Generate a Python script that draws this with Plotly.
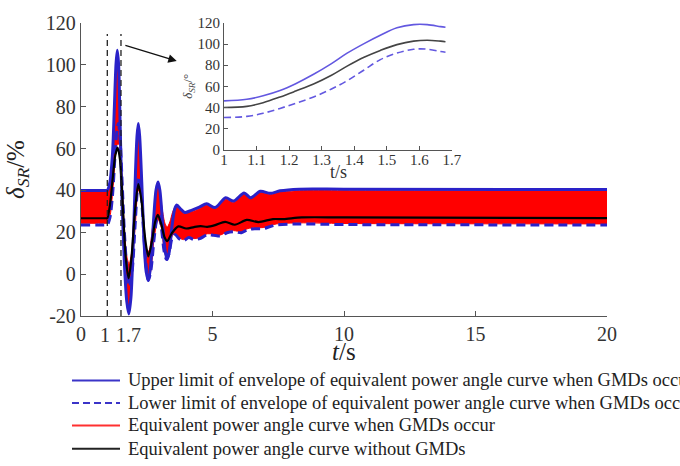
import plotly.graph_objects as go

# ---------------- main plot data ----------------
t_upper = [0, 0.95, 1.0, 1.1, 1.2, 1.27, 1.33, 1.38, 1.43, 1.49, 1.56, 1.65, 1.74, 1.82, 1.9, 1.98, 2.07, 2.13, 2.18,
           2.23, 2.31, 2.4, 2.48, 2.56, 2.64, 2.74, 2.85, 2.93, 3.0, 3.1, 3.2, 3.28, 3.36, 3.46, 3.56, 3.64, 3.8, 3.95,
           4.2, 4.5, 4.78, 5.1, 5.5, 5.8, 6.2, 6.45, 6.82, 7.2, 7.57, 8.3, 10, 20]
upper = [40, 40, 40, 44, 58, 80, 100, 107, 100, 70, 35, 5, -13, -19, -11, 12, 48, 66, 72,
         66, 44, 15, 1, -3, 3, 22, 40, 44, 40, 25, 11, 7, 11, 23, 31, 33, 31, 29.5,
         30.5, 32, 33.6, 31.8, 36.5, 34.9, 38.8, 36.5, 39.6, 38.6, 39.8, 40.6, 40.6, 40.4]

t_lower = [0, 0.95, 1.0, 1.1, 1.2, 1.3, 1.37, 1.42, 1.48, 1.56, 1.65, 1.75, 1.85, 1.95, 2.05, 2.14, 2.2, 2.27, 2.36,
           2.46, 2.56, 2.66, 2.78, 2.9, 2.98, 3.06, 3.16, 3.25, 3.35, 3.46, 3.58, 3.72, 3.9, 4.1, 4.3, 4.52, 4.8,
           5.03, 5.3, 5.55, 5.8, 6.1, 6.35, 6.62, 6.95, 7.2, 7.44, 8.3, 10, 20]
lower = [23.5, 23.5, 23.5, 27, 38, 58, 69, 72, 66, 45, 20, 2, -6, 2, 22, 40, 46.5, 42, 25,
         6, -3, 2, 17, 27, 28, 22, 11, 7, 10, 17, 19, 17, 16, 17.5, 16.5, 17, 18.8,
         18.6, 18.2, 19.8, 20.3, 19.8, 21.3, 21.7, 21.8, 22.8, 23.5, 24, 23.7, 23.5]

t_red_hi = [0, 0.95, 1.0, 1.1, 1.2, 1.27, 1.33, 1.38, 1.43, 1.49, 1.56, 1.65, 1.75, 1.83, 1.92, 2.0, 2.07, 2.13, 2.18,
            2.23, 2.31, 2.4, 2.5, 2.58, 2.68, 2.78, 2.86, 2.93, 3.0, 3.1, 3.2, 3.28, 3.38, 3.48, 3.58, 3.64, 3.8,
            3.95, 4.2, 4.5, 4.78, 5.1, 5.5, 5.8, 6.2, 6.45, 6.82, 7.2, 7.57, 8.3, 10, 20]
red_hi = [39.3, 39.3, 39.3, 43.5, 57, 79, 99, 105.5, 99, 71, 45, 22, 8, 5, 10, 25, 47, 64, 70.5,
          64, 44, 22, 12, 11, 18, 30, 40, 43, 39, 30, 24, 22.5, 25, 29.5, 32, 32.3, 30.3,
          28.8, 29.8, 31.3, 33, 31.2, 35.8, 34.3, 38.2, 36, 39, 38, 39.2, 39.9, 39.9, 39.7]

t_red_lo = [0, 0.95, 1.0, 1.1, 1.2, 1.3, 1.38, 1.45, 1.5, 1.56, 1.65, 1.74, 1.82, 1.9, 1.98, 2.07, 2.18, 2.27, 2.36,
            2.46, 2.56, 2.66, 2.78, 2.93, 3.06, 3.16, 3.25, 3.36, 3.46, 3.58, 3.72, 3.9, 4.1, 4.3, 4.52, 4.8, 5.03,
            5.3, 5.55, 5.8, 6.1, 6.35, 6.62, 6.95, 7.2, 7.44, 8.3, 10, 20]
red_lo = [24.3, 24.3, 24.3, 27.5, 38.5, 55, 62, 62, 55, 35, 5, -13, -18, -11, 10, 24, 40, 38, 22,
          2, -2.5, 2, 17, 26, 22, 11.5, 8, 11, 18, 19.5, 17.5, 16.5, 18, 17, 17.5, 19.3, 19.1,
          18.7, 20.3, 20.8, 20.3, 21.8, 22.2, 22.3, 23.3, 24, 24.5, 24.2, 24]

t_black = [0, 0.95, 1.0, 1.1, 1.2, 1.3, 1.39, 1.48, 1.58, 1.7, 1.81, 1.92, 2.05, 2.18, 2.3, 2.44, 2.56, 2.7, 2.82,
           2.92, 3.05, 3.18, 3.28, 3.45, 3.7, 4.0, 4.3, 4.55, 4.8, 5.1, 5.48, 5.85, 6.3, 6.75, 7.3, 7.7, 8.4, 10, 20]
black = [26.7, 26.7, 26.7, 33, 45, 56.5, 60.5, 55, 35, 8, -2, 8, 30, 43, 35, 17, 8.5, 16, 25,
         28.3, 24, 17.5, 15.8, 19.5, 22.8, 21.8, 22.5, 22.9, 22.6, 23.4, 25, 23.6, 25.9, 24.9, 26.3, 26.3, 27.1, 27.1, 26.8]

fault_times = [1.0, 1.52]          # dashed markers
fault_top = 114.7
marker_labels = ["1", "1.7"]
marker_label_x = [0.92, 1.82]
main_xticks = [0, 5, 10, 15, 20]
main_yticks = [-20, 0, 20, 40, 60, 80, 100, 120]
main_yticktext = ["-20", "0", "20", "40", "60", "80", "100", "120"]
arrow_from = (1.63, 109.5)
arrow_to = (3.64, 101.8)

# ---------------- inset data ----------------
t_in = [1.0, 1.07, 1.12, 1.172, 1.22, 1.275, 1.33, 1.378, 1.43, 1.48, 1.531, 1.582, 1.624, 1.665, 1.68]
in_upper = [46.2, 47.7, 51, 56, 62.5, 71.4, 81.5, 91.4, 100.5, 108.4, 115.4, 118.5, 118.5, 116.6, 116]
in_black = [40, 41, 44.5, 49.9, 55.5, 62.2, 70.5, 79.1, 87.5, 94, 99.5, 102.8, 103.6, 102.8, 102.3]
in_lower = [30.5, 31.5, 34.5, 39.1, 44, 49.9, 57.5, 65.3, 75.5, 85.3, 91.5, 95.1, 95.2, 93, 92.3]
in_xticks = [1.0, 1.1, 1.2, 1.3, 1.4, 1.5, 1.6, 1.7]
in_xticktext = ["1", "1.1", "1.2", "1.3", "1.4", "1.5", "1.6", "1.7"]
in_yticks = [0, 20, 40, 60, 80, 100, 120]

legend_names = ["Upper limit of envelope of equivalent power angle curve when GMDs occur",
                "Lower limit of envelope of equivalent power angle curve when GMDs occur",
                "Equivalent power angle curve when GMDs occur",
                "Equivalent power angle curve without GMDs"]

SERIF = "Liberation Serif, Times New Roman, serif"
BLUE = "#2a22c8"
BLUE_IN = "#6358e0"
RED = "#ff0000"
W, H = 680, 466
ML, MR, MT, MB = 81, 73, 16, 150
PW, PH = W - ML - MR, H - MT - MB


def px_x(p):   # pixel column -> paper x
    return (p - ML) / PW


def px_y(p):   # pixel row -> paper y
    return (H - MB - p) / PH


# legend geometry (pixels)
legend_rows_px = [382, 405, 428, 452]
legend_line_px = (72, 120)
legend_text_px = 126

fig = go.Figure()

# red band (family of curves under GMDs)
fig.add_trace(go.Scatter(x=t_red_lo, y=red_lo, mode="lines", name=legend_names[2],
                         line=dict(color=RED, width=1, shape="spline", smoothing=0.8),
                         showlegend=False, hoverinfo="skip"))
fig.add_trace(go.Scatter(x=t_red_hi, y=red_hi, mode="lines", fill="tonexty", fillcolor=RED,
                         name=legend_names[2],
                         line=dict(color=RED, width=1, shape="spline", smoothing=0.8),
                         showlegend=False, hoverinfo="skip"))
# envelopes
fig.add_trace(go.Scatter(x=t_upper, y=upper, mode="lines", name=legend_names[0],
                         line=dict(color=BLUE, width=3, shape="spline", smoothing=0.8),
                         showlegend=False))
fig.add_trace(go.Scatter(x=t_lower, y=lower, mode="lines", name=legend_names[1],
                         line=dict(color=BLUE, width=3, dash="9px,5px", shape="spline", smoothing=0.8),
                         showlegend=False))
# without GMDs
fig.add_trace(go.Scatter(x=t_black, y=black, mode="lines", name=legend_names[3],
                         line=dict(color="#000000", width=2.2, shape="spline", smoothing=0.8),
                         showlegend=False))

# dashed markers
for ft in fault_times:
    fig.add_trace(go.Scatter(x=[ft, ft], y=[main_yticks[0], fault_top], mode="lines",
                             line=dict(color="#222222", width=1.3, dash="6px,4px"),
                             showlegend=False, hoverinfo="skip"))

# inset
fig.add_trace(go.Scatter(x=t_in, y=in_upper, mode="lines", xaxis="x2", yaxis="y2",
                         line=dict(color=BLUE_IN, width=1.6, shape="spline"), showlegend=False))
fig.add_trace(go.Scatter(x=t_in, y=in_black, mode="lines", xaxis="x2", yaxis="y2",
                         line=dict(color="#444444", width=1.6, shape="spline"), showlegend=False))
fig.add_trace(go.Scatter(x=t_in, y=in_lower, mode="lines", xaxis="x2", yaxis="y2",
                         line=dict(color=BLUE_IN, width=1.6, dash="7px,4px", shape="spline"), showlegend=False))

# legend drawn by hand (rows closer together than plotly's legend allows)
leg_styles = [dict(color="#3b34c8", width=2), dict(color="#3b34c8", width=2, dash="7px,4px"),
              dict(color="#ff3030", width=2), dict(color="#222222", width=2)]
shapes = []
annotations = []
for nm, st, ypx in zip(legend_names, leg_styles, legend_rows_px):
    shapes.append(dict(type="line", xref="paper", yref="paper",
                       x0=px_x(legend_line_px[0]), x1=px_x(legend_line_px[1]),
                       y0=px_y(ypx), y1=px_y(ypx), line=st))
    annotations.append(dict(x=px_x(legend_text_px), y=px_y(ypx), xref="paper", yref="paper", text=nm,
                            showarrow=False, xanchor="left", yanchor="middle",
                            font=dict(family=SERIF, size=18.5, color="#222222")))

for lx, lt in zip(marker_label_x, marker_labels):
    annotations.append(dict(x=lx, y=main_yticks[0], xref="x", yref="y", text=lt, showarrow=False,
                            yanchor="top", yshift=-6, font=dict(family=SERIF, size=20, color="#333333")))
annotations.append(dict(x=arrow_to[0], y=arrow_to[1], ax=arrow_from[0], ay=arrow_from[1],
                        xref="x", yref="y", axref="x", ayref="y", text="", showarrow=True,
                        arrowhead=2, arrowsize=1.3, arrowwidth=1.3, arrowcolor="#111111"))
# axis titles placed closer to the tick labels than plotly axis titles allow
annotations.append(dict(x=0.5, y=px_y(352), xref="paper", yref="paper", text="<i>t</i>/s",
                        showarrow=False, yanchor="middle", font=dict(family=SERIF, size=25, color="#222222")))
annotations.append(dict(x=0.5, y=px_y(169), xref="x2 domain", yref="paper", text="t/s",
                        showarrow=False, yanchor="middle", font=dict(family=SERIF, size=18, color="#333333")))

fig.update_layout(
    width=W, height=H,
    margin=dict(l=ML, r=MR, t=MT, b=MB),
    paper_bgcolor="white", plot_bgcolor="white",
    font=dict(family=SERIF, color="#333333"),
    showlegend=False,
    xaxis=dict(range=[0, 20], tickvals=main_xticks, ticks="inside", ticklen=5, tickwidth=1.2,
               tickcolor="#555555", showline=True, linecolor="#555555", linewidth=1.3,
               showgrid=False, zeroline=False, tickfont=dict(family=SERIF, size=20, color="#333333")),
    yaxis=dict(range=[-20, 120], tickvals=main_yticks, ticktext=main_yticktext, ticks="inside", ticklen=5,
               tickwidth=1.2, tickcolor="#555555", showline=True, linecolor="#555555", linewidth=1.3,
               showgrid=False, zeroline=False, tickfont=dict(family=SERIF, size=20, color="#333333"),
               title=dict(text="<i>δ<sub>SR</sub></i>/%", font=dict(family=SERIF, size=25, color="#222222"),
                          standoff=14)),
    xaxis2=dict(domain=[0.2719, 0.7053], anchor="y2", range=[1, 1.7], tickvals=in_xticks,
                ticktext=in_xticktext, ticks="inside", ticklen=4, tickcolor="#555555",
                showline=True, linecolor="#555555", linewidth=1.2, showgrid=False, zeroline=False,
                ticklabelstandoff=-4,
                tickfont=dict(family=SERIF, size=15, color="#333333")),
    yaxis2=dict(domain=[0.5677, 1.0], anchor="x2", range=[0, 120], tickvals=in_yticks,
                ticks="inside", ticklen=4, tickcolor="#555555",
                showline=True, linecolor="#555555", linewidth=1.2, showgrid=False, zeroline=False,
                tickfont=dict(family=SERIF, size=15, color="#333333"),
                title=dict(text="<i>δ<sub>SR</sub></i>/°", font=dict(family=SERIF, size=13, color="#444444"),
                           standoff=1)),
    shapes=shapes,
    annotations=annotations,
)

fig.write_html("out.html")
